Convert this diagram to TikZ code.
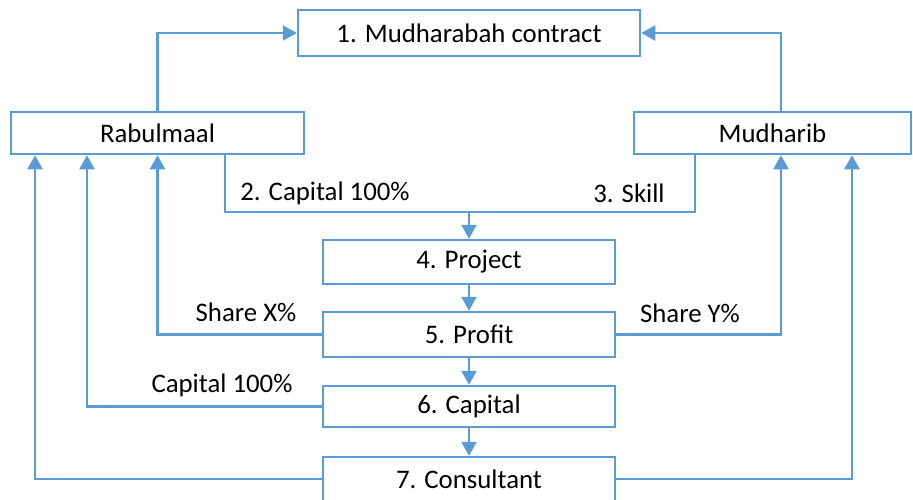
\documentclass[tikz,border=0pt]{standalone}
\usepackage{fontspec}
\setmainfont{Carlito}
\usetikzlibrary{arrows.meta}
\definecolor{lblue}{HTML}{5B9BD5}
\begin{document}
\begin{tikzpicture}[x=1pt,y=-1pt,
  box/.style={draw=lblue,line width=2.5pt,fill=white,inner sep=0pt,minimum width=292pt,font=\fontsize{26.8}{32}\selectfont},
  lab/.style={inner sep=0pt,font=\fontsize{26.8}{32}\selectfont},
  conn/.style={draw=lblue,line width=2.5pt},
  arr/.style={conn,-{Triangle[length=14pt,width=15pt]}}]
\useasboundingbox (0,0) rectangle (913,499);
\node[box,minimum width=342pt,minimum height=46pt] (contract) at (469,33) {1. Mudharabah contract};
\node[box,minimum width=293pt,minimum height=42pt] (rab) at (157.5,133) {Rabulmaal};
\node[box,minimum width=277pt,minimum height=42pt] (mud) at (772.5,133) {Mudharib};
\node[box,minimum height=44pt] (project) at (469,262) {4. Project};
\node[box,minimum height=45pt] (profit) at (469,334.5) {5. Profit};
\node[box,minimum height=41pt] (capital) at (469,406.5) {6. Capital};
\node[box,minimum height=44pt] (consultant) at (469,479) {7. Consultant};
\coordinate (xa) at (35,0);
\coordinate (xb) at (87,0);
\coordinate (xc) at (225,0);
\coordinate (xd) at (695,0);
\coordinate (xe) at (781,0);
\coordinate (xf) at (852,0);
\coordinate (j) at (469,212);
\draw[arr] (rab.north) |- (contract.west);
\draw[arr] (mud.north -| xe) |- (contract.east);
\draw[conn] (rab.south -| xc) |- (j) -| (mud.south -| xd);
\draw[arr] (j) -- (project.north);
\draw[arr] (project.south) -- (profit.north);
\draw[arr] (profit.south) -- (capital.north);
\draw[arr] (capital.south) -- (consultant.north);
\draw[arr] (profit.west) -| (rab.south);
\draw[arr] (profit.east) -| (mud.south -| xe);
\draw[arr] (capital.west) -| (rab.south -| xb);
\draw[arr] (consultant.west) -| (rab.south -| xa);
\draw[arr] (consultant.east) -| (mud.south -| xf);
\node[lab] (l2) at (325,193) {2. Capital 100\%};
\node[lab] (l3) at (629,193) {3. Skill};
\node[lab] (lx) at (246,312) {Share X\%};
\node[lab] (ly) at (690,313) {Share Y\%};
\node[lab] (lc) at (222,385) {Capital 100\%};
\end{tikzpicture}
\end{document}
